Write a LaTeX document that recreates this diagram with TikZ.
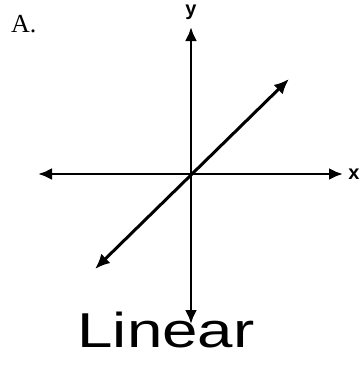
\documentclass[tikz,border=0pt]{standalone}
\usepackage{fontspec}
\setsansfont{Liberation Sans}
\newfontfamily\letterfont{Liberation Serif}
\usetikzlibrary{arrows.meta,calc}

\begin{document}
\begin{tikzpicture}[
  x=1pt, y=-1pt,
  axis/.style={line width=2.8pt, {Latex[length=14pt,width=12pt]}-{Latex[length=14pt,width=12pt]}},
  graphline/.style={line width=3pt, {Latex[length=15pt,width=13pt]}-{Latex[length=15pt,width=13pt]}},
  axislabel/.style={font=\sffamily\bfseries\fontsize{20}{20}\selectfont, inner sep=0pt, anchor=base},
  partlabel/.style={font=\letterfont\fontsize{26}{26}\selectfont, inner sep=0pt, anchor=base west},
  curvename/.style={font=\sffamily\fontsize{49}{49}\selectfont, inner sep=0pt, anchor=base, xscale=1.3}
]
\useasboundingbox (0,0) rectangle (360,370);

% axes
\coordinate (o) at (191,174);
\coordinate (xl) at (38,174);
\coordinate (xr) at (343,174);
\coordinate (yt) at (191,27);
\coordinate (yb) at (191,324);
\draw[axis] (xl) -- (xr);
\draw[axis] (yb) -- (yt);
\node[axislabel] (xlab) at (354,179) {x};
\node[axislabel] (ylab) at (191,15) {y};

% the line through the origin
\coordinate (lo) at (95,269);
\coordinate (hi) at (289,79);
\draw[graphline] (lo) -- (hi);

\node[partlabel] (part) at (11,32) {A.};
\node[curvename] (name) at (166,347) {Linear};
\end{tikzpicture}
\end{document}
